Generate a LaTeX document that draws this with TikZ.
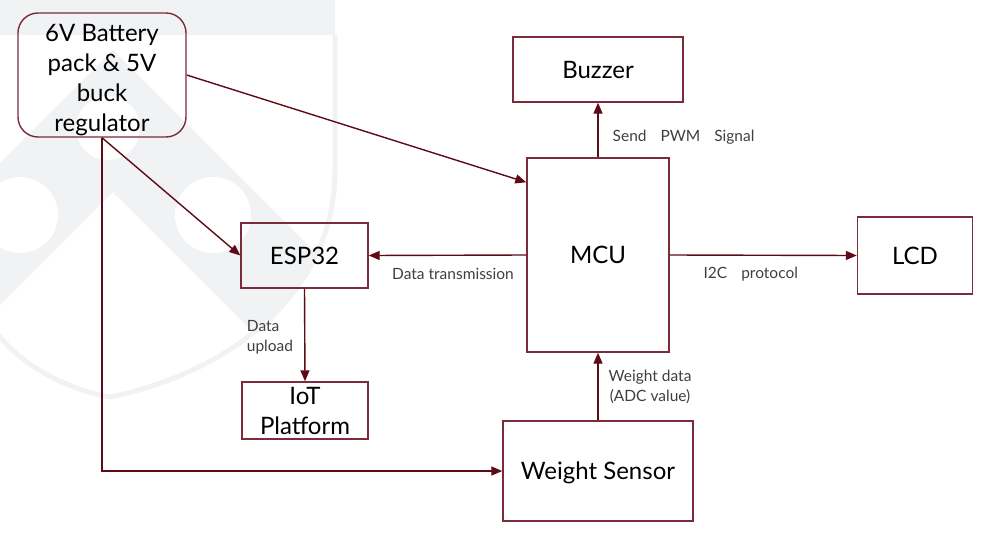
\documentclass[tikz,border=0pt]{standalone}
\usepackage{fontspec}
\setmainfont{Lato}
\usetikzlibrary{arrows.meta}
\definecolor{wire}{HTML}{5E0B17}
\definecolor{boxline}{HTML}{7A2C3A}
\definecolor{tagtext}{HTML}{3F3F3F}
\definecolor{wmgray}{HTML}{F1F2F4}

\tikzset{
  block/.style={draw=boxline, line width=1.4pt, align=center, inner sep=0pt,
    font=\fontsize{24}{30}\selectfont},
  flow/.style={draw=wire, line width=1.4pt, -{Triangle[length=11pt,width=9pt]}},
  tag/.style={text=tagtext, inner sep=0pt, font=\fontsize{15.5}{20}\selectfont},
}

\begin{document}
\begin{tikzpicture}[x=1pt, y=-1pt]
    \useasboundingbox (0,0) rectangle (981,551);

    % faint shield in the background
    \begin{scope}
      \clip (-5,0) -- (335,0) -- (335,170)
        .. controls (335,300) and (220,375) .. (110,397)
        .. controls (60,388) and (15,360) .. (-5,330) -- cycle;
      \fill[wmgray] (-5,0) rectangle (335,35);
      \fill[wmgray] (113,50) -- (450,387) -- (450,529) -- (113,192)
        -- (-230,535) -- (-230,393) -- cycle;
      \fill[white] (20,215) circle[radius=38pt];
      \fill[white] (213,215) circle[radius=38pt];
      \fill[white] (108,128) circle[radius=32pt];
    \end{scope}
    \draw[wmgray, line width=5pt] (335,35) -- (335,170)
      .. controls (335,300) and (220,375) .. (110,397)
      .. controls (60,388) and (15,360) .. (-5,330);

    % blocks
    \node[block, rounded corners=20pt, minimum width=168pt, minimum height=124pt]
      (bat) at (102,75) {\rule{0pt}{28pt}6V Battery\\pack \& 5V\\buck\\regulator};
    \node[block, minimum width=170pt, minimum height=65pt] (buzzer) at (598,69.5) {Buzzer};
    \node[block, minimum width=142pt, minimum height=194pt] (mcu) at (598,255) {MCU};
    \node[block, minimum width=115pt, minimum height=77pt] (lcd) at (915,255.5) {LCD};
    \node[block, minimum width=127pt, minimum height=65pt] (esp) at (304.5,255.5) {ESP32};
    \node[block, minimum width=126pt, minimum height=57pt] (iot) at (305,410.5) {IoT\\Platform};
    \node[block, minimum width=190pt, minimum height=100pt] (ws) at (598,471) {\rule{0pt}{22pt}Weight Sensor};

    % connections
    \path[every edge/.style={flow}]
      (bat.east) edge ([yshift=-25pt]mcu.north west)
      (bat.south) edge (esp.west)
      (mcu.west) edge node[tag, xshift=5.5pt, yshift=-19pt] {Data transmission} (esp.east)
      (esp.south) edge node[tag, anchor=east, align=left, xshift=-11pt, yshift=-2pt] {Data\\upload} (iot.north)
      (ws.north) edge node[tag, anchor=west, align=center, xshift=10pt] {Weight data\\(ADC value)} (mcu.south)
      (mcu.north) edge node[tag, anchor=west, xshift=14pt, yshift=-7pt] {Send\hspace{14pt}PWM\hspace{14pt}Signal} (buzzer.south)
      (mcu.east) edge node[tag, xshift=-12.5pt, yshift=-19pt] {I2C\hspace{14pt}protocol} (lcd.west)
      ;
    \draw[flow] (bat.south) |- (ws.west);
\end{tikzpicture}
\end{document}
